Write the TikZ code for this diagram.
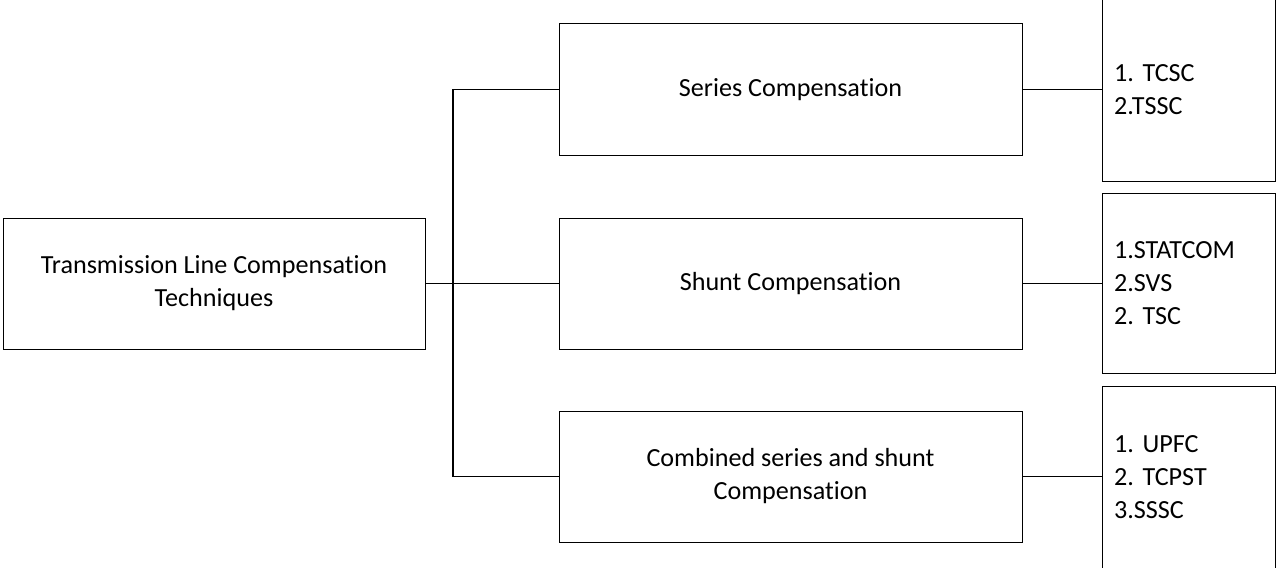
\documentclass[tikz,border=0pt]{standalone}
\usepackage{fontspec}
\setmainfont{Carlito}[Ligatures=NoCommon]
\usepackage{tikz}
\usetikzlibrary{positioning}
\frenchspacing

\begin{document}
\begin{tikzpicture}[
  x=0.75pt, y=-0.75pt,
  box/.style={draw, line width=0.75pt, minimum width=347.25pt, minimum height=98.25pt, align=center, font=\fontsize{19.6}{24.75}\selectfont},
  list/.style={draw, line width=0.75pt, minimum width=129.75pt, text width=111.75pt, inner xsep=9pt, align=left, font=\fontsize{19.6}{24.75}\selectfont},
  link/.style={line width=1.1pt}
]
\useasboundingbox (0,0) rectangle (1276,567);

\node[box, minimum width=316.5pt] (tech) at (214,283.5) {Transmission Line Compensation\\Techniques};

\node[box] (series) at (790.5,89.5) {Series Compensation};
\node[box] (shunt) at (790.5,283.5) {Shunt Compensation};
\node[box] (combined) at (790.5,476.5) {Combined series and shunt\\Compensation};

\node[list, minimum height=137.25pt] (list1) at (1188.5,89.5) {1. TCSC\\2.TSSC};
\node[list, minimum height=135pt] (list2) at (1188.5,283) {1.STATCOM\\2.SVS\\2. TSC};
\node[list, minimum height=137.25pt] (list3) at (1188.5,477.5) {1. UPFC\\2. TCPST\\3.SSSC};

\coordinate (bus) at (453,283.5);

\draw[link] (tech.east) -- (shunt.west);
\draw[link] (series.west) -| (bus) |- (combined.west);

\draw[link] (series.east) -- (series.east -| list1.west);
\draw[link] (shunt.east) -- (shunt.east -| list2.west);
\draw[link] (combined.east) -- (combined.east -| list3.west);
\end{tikzpicture}
\end{document}
